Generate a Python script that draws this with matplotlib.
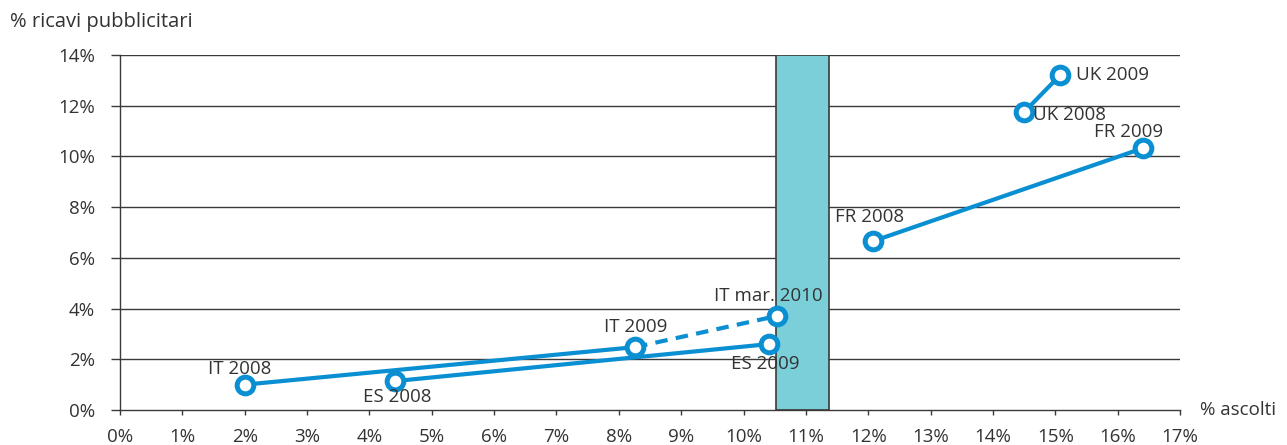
import matplotlib.pyplot as plt

plt.rcParams['font.family'] = ['Open Sans', 'DejaVu Sans']

# punti (% ascolti, % ricavi pubblicitari)
etichette = ["IT 2008", "IT 2009", "IT mar. 2010", "ES 2008", "ES 2009",
             "FR 2008", "FR 2009", "UK 2008", "UK 2009"]
ascolti = [2.0, 8.26, 10.54, 4.41, 10.41, 12.08, 16.41, 14.50, 15.08]
ricavi = [1.0, 2.48, 3.71, 1.14, 2.60, 6.66, 10.33, 11.75, 13.21]

# segmenti: (indice da, indice a, tratteggiato?)
segmenti = [(0, 1, False), (1, 2, True), (3, 4, False), (5, 6, False), (7, 8, False)]

# banda evidenziata
banda_x = [10.52, 11.37]

x_ticks = list(range(0, 18))
y_ticks = list(range(0, 15, 2))

# offset etichette in pixel e allineamento
offset = [(-5, 16, 'center'), (1, 20, 'center'), (-9, 20, 'center'),
          (2, -16, 'center'), (-4, -20, 'center'), (-4, 24, 'center'),
          (-15, 16, 'center'), (9, -3, 'left'), (16, 0, 'left')]

blu = '#0a8fd2'
grigio = '#3a3a3a'
testo = '#333333'
fs = 13.5

fig = plt.figure(figsize=(12.87, 4.45), dpi=100)
ax = fig.add_axes([120/1287, 1 - 410/445, 1060/1287, 355/445])

ax.set_xlim(0, 17)
ax.set_ylim(0, 14)

for y in y_ticks[1:]:
    ax.axhline(y, color=grigio, lw=1, zorder=1)

ax.axvspan(banda_x[0], banda_x[1], facecolor='#7bcfd9', edgecolor=grigio, lw=1.2, zorder=2)

for a, b, tratt in segmenti:
    ax.plot([ascolti[a], ascolti[b]], [ricavi[a], ricavi[b]], color=blu, lw=3,
            ls=(0, (3, 2)) if tratt else '-', zorder=3, solid_capstyle='butt')

ax.plot(ascolti, ricavi, 'o', ms=12, mfc='white', mec=blu, mew=3.6, ls='none', zorder=4)

for nome, x, y, (dx, dy, ha) in zip(etichette, ascolti, ricavi, offset):
    ax.annotate(nome, (x, y), xytext=(dx, dy), textcoords='offset pixels',
                ha=ha, va='center', fontsize=fs, color=testo, zorder=5)

for s in ['top', 'right']:
    ax.spines[s].set_visible(False)
for s in ['left', 'bottom']:
    ax.spines[s].set_color(grigio)
    ax.spines[s].set_linewidth(1)

ax.set_xticks(x_ticks)
ax.set_xticklabels([f"{v}%" for v in x_ticks])
ax.set_yticks(y_ticks)
ax.set_yticklabels([f"{v}%" for v in y_ticks])
ax.tick_params(axis='x', length=3.6, width=1, color=grigio, labelsize=fs,
               labelcolor=testo, pad=9)
ax.tick_params(axis='y', length=6.5, width=1, color=grigio, labelsize=fs,
               labelcolor=testo, pad=11.5)

fig.text(10/1287, 1 - 22/445, "% ricavi pubblicitari", fontsize=14.5,
         color=testo, va='center', ha='left')
fig.text(1200/1287, 1 - 410/445, "% ascolti", fontsize=fs,
         color=testo, va='center', ha='left')

fig.savefig('out.png', dpi=100)
